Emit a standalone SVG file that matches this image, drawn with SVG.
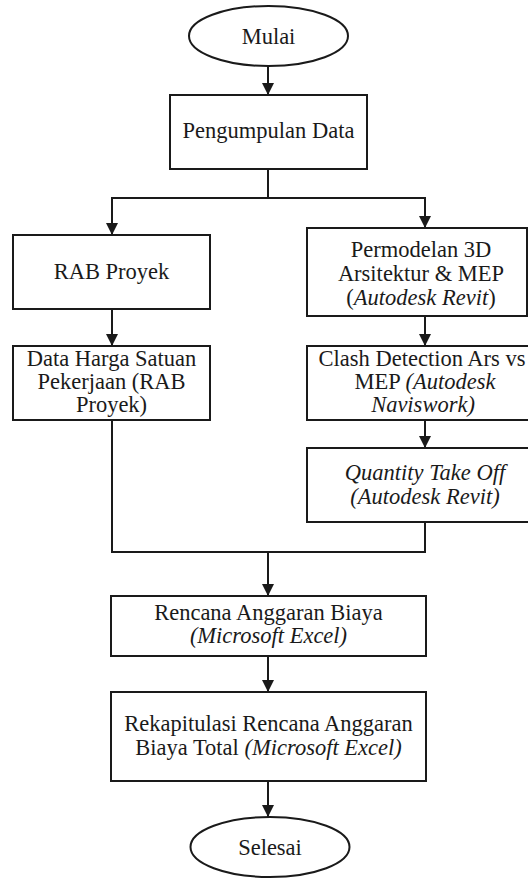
<svg xmlns="http://www.w3.org/2000/svg" width="528" height="879" viewBox="0 0 528 879">
<defs>
<marker id="arr" markerUnits="userSpaceOnUse" markerWidth="14" markerHeight="12" refX="12" refY="6" orient="auto">
<path d="M0,0 L12,6 L0,12 z" fill="#1a1a1a"/>
</marker>
<style>
.box{fill:#fff;stroke:#1a1a1a;stroke-width:2}
.ln{fill:none;stroke:#1a1a1a;stroke-width:2}
.t{font-size:22.5px;fill:#1a1a1a;text-anchor:middle}
.i{font-style:italic}
</style>
</defs>
<rect width="528" height="879" fill="#fff"/>
<g id="connectors">
<line class="ln" x1="268" y1="66" x2="268" y2="95" marker-end="url(#arr)"/>
<polyline class="ln" points="268,169 268,198 112,198 112,235" marker-end="url(#arr)"/>
<polyline class="ln" points="268,198 425,198 425,228" marker-end="url(#arr)"/>
<line class="ln" x1="112" y1="309" x2="112" y2="346" marker-end="url(#arr)"/>
<line class="ln" x1="425" y1="316" x2="425" y2="346" marker-end="url(#arr)"/>
<line class="ln" x1="425" y1="420" x2="425" y2="448" marker-end="url(#arr)"/>
<polyline class="ln" points="112,420 112,552 425,552 425,522"/>
<line class="ln" x1="268" y1="552" x2="268" y2="596" marker-end="url(#arr)"/>
<line class="ln" x1="268" y1="656" x2="268" y2="692" marker-end="url(#arr)"/>
<line class="ln" x1="268" y1="781" x2="268" y2="817" marker-end="url(#arr)"/>
</g>
<g font-family="'Liberation Serif', 'Times New Roman', 'DejaVu Serif', serif">
<g id="mulai">
<ellipse class="box" cx="268.5" cy="36" rx="79.5" ry="30"/>
<text class="t" x="268.5" y="44">Mulai</text>
</g>
<g id="pengumpulan">
<rect class="box" x="170" y="95" width="197" height="74"/>
<text class="t" x="268.5" y="138">Pengumpulan Data</text>
</g>
<g id="rab">
<rect class="box" x="13" y="235" width="197" height="74"/>
<text class="t" x="111.5" y="279">RAB Proyek</text>
</g>
<g id="permodelan">
<rect class="box" x="307" y="228" width="220" height="88"/>
<text class="t" x="421" y="257">Permodelan 3D</text>
<text class="t" x="421" y="281">Arsitektur &amp; MEP</text>
<text class="t" x="421" y="305">(<tspan class="i">Autodesk Revit</tspan>)</text>
</g>
<g id="dataharga">
<rect class="box" x="13" y="346" width="197" height="74"/>
<text class="t" x="111.5" y="366">Data Harga Satuan</text>
<text class="t" x="111.5" y="389">Pekerjaan (RAB</text>
<text class="t" x="111.5" y="412">Proyek)</text>
</g>
<g id="clash">
<rect class="box" x="307" y="346" width="236" height="74"/>
<text class="t" x="422" y="366">Clash Detection Ars vs</text>
<text class="t" x="425" y="389">MEP <tspan class="i">(Autodesk</tspan></text>
<text class="t i" x="423" y="412">Naviswork)</text>
</g>
<g id="qto">
<rect class="box" x="307" y="448" width="236" height="74"/>
<text class="t i" x="425" y="480">Quantity Take Off</text>
<text class="t i" x="425" y="504">(Autodesk Revit)</text>
</g>
<g id="rencana">
<rect class="box" x="111" y="596" width="315" height="60"/>
<text class="t" x="268.5" y="620">Rencana Anggaran Biaya</text>
<text class="t i" x="268.5" y="643">(Microsoft Excel)</text>
</g>
<g id="rekap">
<rect class="box" x="111" y="692" width="315" height="89"/>
<text class="t" x="268.5" y="731">Rekapitulasi Rencana Anggaran</text>
<text class="t" x="268.5" y="755">Biaya Total <tspan class="i">(Microsoft Excel)</tspan></text>
</g>
<g id="selesai">
<ellipse class="box" cx="270" cy="847" rx="79.5" ry="30"/>
<text class="t" x="270" y="855">Selesai</text>
</g>
</g>
</svg>
